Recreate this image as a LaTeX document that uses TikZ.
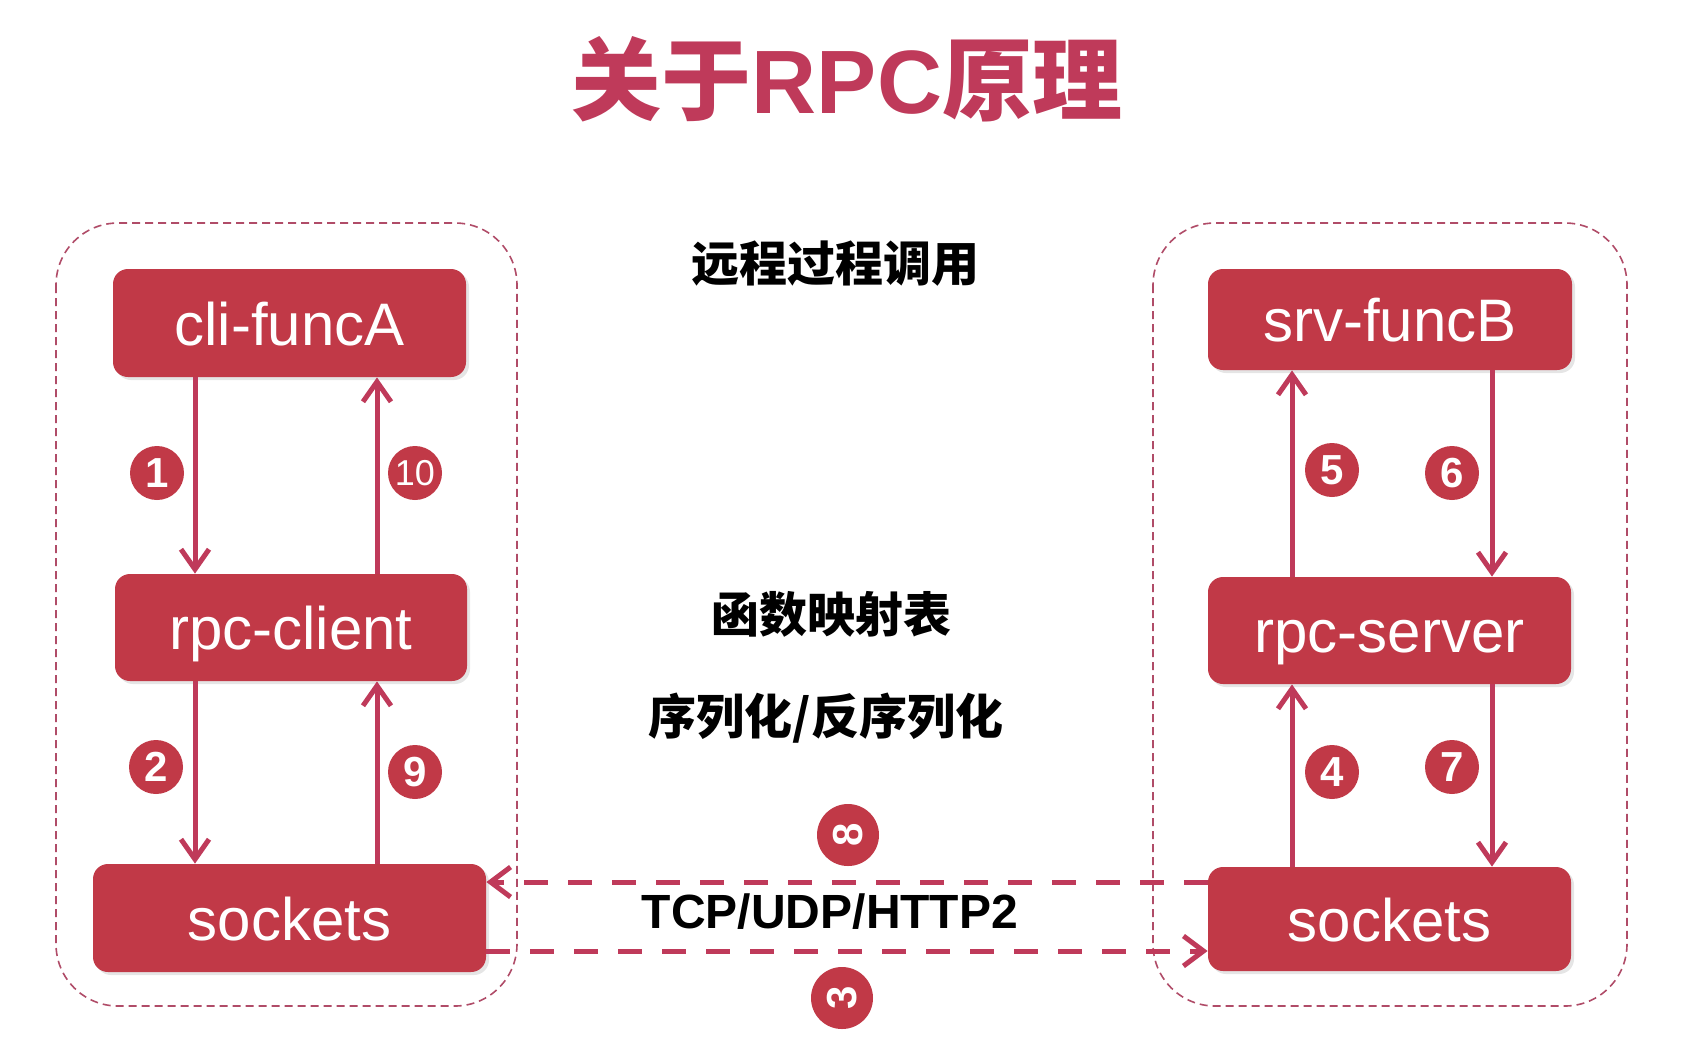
\documentclass[tikz,border=0pt]{standalone}
\usepackage{fontspec}
\setmainfont{Liberation Sans}
\newfontfamily\cjkfont{Noto Sans CJK SC}
\usetikzlibrary{arrows.meta,shadows}
\definecolor{rpcred}{RGB}{193,57,71}
\definecolor{rpcpink}{RGB}{191,58,90}
\definecolor{rpcgrey}{RGB}{176,76,104}
\tikzset{
  boxline/.style={fill=rpcred,rounded corners=7.5pt,text=white,inner sep=0pt,
    font=\fontsize{30}{36}\selectfont,text height=22pt,text depth=0pt,
    drop shadow={shadow xshift=1.5pt,shadow yshift=-1.5pt,opacity=0.2}},
  flowline/.style={draw=rpcpink,line width=2.5pt,-{Straight Barb[length=10pt,width=14pt]}},
  netline/.style={draw=rpcpink,line width=2.5pt,dash pattern=on 12pt off 10pt,
    -{Straight Barb[length=10pt,width=15pt]}},
  groupline/.style={draw=rpcgrey,line width=0.8pt,dash pattern=on 4pt off 2.5pt,rounded corners=31pt},
  numdot/.style={circle,fill=rpcred,text=white,minimum size=27pt,inner sep=0pt,
    font=\bfseries\fontsize{21}{24}\selectfont},
  notefont/.style={font=\cjkfont\bfseries\fontsize{24}{28}\selectfont},
}
\newcommand{\rpcbox}[6]{\node[boxline,minimum width=#4pt,minimum height=#5pt] (#1) at (#2,#3) {#6};}
\newcommand{\stepno}[5][]{\node[numdot,#1] (#2) at (#3,#4) {#5};}

\begin{document}
\begin{tikzpicture}[x=0.5pt,y=-0.5pt]
        \fill[white] (0,0) rectangle (1682,1046);
        \useasboundingbox (0,0) rectangle (1682,1046);
        % title
        \node[text=rpcpink,font=\bfseries\fontsize{45}{50}\selectfont] (title) at (847,79)
          {{\cjkfont 关于}RPC{\cjkfont 原理}};
        % groups
        \draw[groupline] (56,223) rectangle (517,1006);
        \draw[groupline] (1153,223) rectangle (1627,1006);
        % client side
        \rpcbox{clifunc}{289.5}{323}{176.5}{54}{cli-funcA}
        \rpcbox{rpccli}{291}{627.5}{176}{53.5}{rpc-client}
        \rpcbox{sockcli}{289.5}{918}{196.5}{54}{sockets}
        % server side
        \rpcbox{srvfunc}{1390}{319.5}{182}{50.5}{srv-funcB}
        \rpcbox{rpcsrv}{1389.5}{630.5}{181.5}{53.5}{rpc-server}
        \rpcbox{socksrv}{1389.5}{919}{181.5}{52}{sockets}
        % notes
        \node[notefont] (call) at (835,264) {远程过程调用};
        \node[notefont] (fmap) at (831,614) {函数映射表};
        \node[notefont] (codec) at (826,718) {序列化/反序列化};
        \node[font=\bfseries\fontsize{24}{28}\selectfont] (proto) at (830,912) {TCP/UDP/HTTP2};
        % flows
        \draw[flowline] (195,0 |- clifunc.south) -- (195,0 |- rpccli.north);
        \draw[flowline] (195,0 |- rpccli.south) -- (195,0 |- sockcli.north);
        \draw[flowline] (377,0 |- sockcli.north) -- (377,0 |- rpccli.south);
        \draw[flowline] (377,0 |- rpccli.north) -- (377,0 |- clifunc.south);
        \draw[flowline] (1292,0 |- socksrv.north) -- (1292,0 |- rpcsrv.south);
        \draw[flowline] (1292,0 |- rpcsrv.north) -- (1292,0 |- srvfunc.south);
        \draw[flowline] (1492,0 |- srvfunc.south) -- (1492,0 |- rpcsrv.north);
        \draw[flowline] (1492,0 |- rpcsrv.south) -- (1492,0 |- socksrv.north);
        \draw[netline] (sockcli.east |- 0,951) -- (socksrv.west |- 0,951);
        \draw[netline] (socksrv.west |- 0,882) -- (sockcli.east |- 0,882);
        % steps
        \stepno{s1}{157}{473}{1}
        \stepno{s2}{156}{767}{2}
        \stepno[minimum size=31pt,rotate=90]{s3}{842}{998}{3}
        \stepno{s4}{1332}{772}{4}
        \stepno{s5}{1332}{470}{5}
        \stepno{s6}{1452}{473}{6}
        \stepno{s7}{1452}{767}{7}
        \stepno[minimum size=31pt,rotate=90]{s8}{848}{835}{8}
        \stepno{s9}{415}{772}{9}
        \stepno[font=\fontsize{18}{20}\selectfont]{s10}{415}{473}{10}
      \end{tikzpicture}
\end{document}
